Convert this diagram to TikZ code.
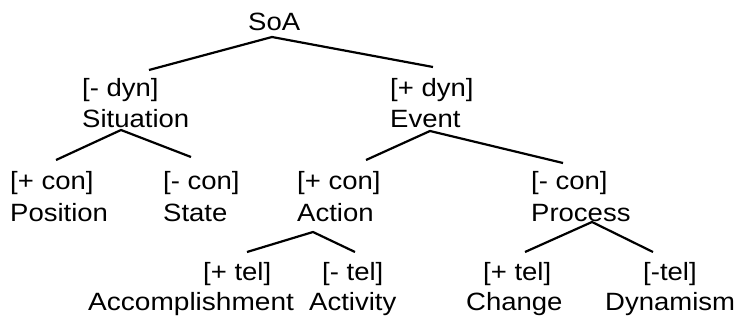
\documentclass[tikz,border=0pt]{standalone}
\usepackage{graphicx}
\usepackage{fontspec}
\setmainfont{Liberation Sans}[FakeStretch=1.10]
\begin{document}
\begin{tikzpicture}[x=1pt,y=-1pt,
  lbl/.style={anchor=base west,inner sep=0pt,font=\fontsize{25}{30}\selectfont},
  edge/.style={line width=2.2pt}]
\useasboundingbox (0,0) rectangle (738,321);
% labels
\node[lbl] (soa) at (248,31) {SoA};
\node[lbl] (fdyn) at (82,96) {[- dyn]};
\node[lbl] (situation) at (82,127) {Situation};
\node[lbl] (pdyn) at (390,96) {[+ dyn]};
\node[lbl] (event) at (390,127) {Event};
\node[lbl] (pcon1) at (10,189) {[+ con]};
\node[lbl] (position) at (10,221) {Position};
\node[lbl] (mcon1) at (163,189) {[- con]};
\node[lbl] (state) at (163,221) {State};
\node[lbl] (pcon2) at (297,189) {[+ con]};
\node[lbl] (action) at (297,221) {Action};
\node[lbl] (mcon2) at (531,189) {[- con]};
\node[lbl] (process) at (531,221) {Process};
\node[lbl] (ptel1) at (203,280) {[+ tel]};
\node[lbl] (accomp) at (88,310) {\scalebox{1.02}[1]{Accomplishment}};
\node[lbl] (mtel1) at (322,280) {[- tel]};
\node[lbl] (activity) at (309,310) {Activity};
\node[lbl] (ptel2) at (483,280) {[+ tel]};
\node[lbl] (change) at (466,310) {Change};
\node[lbl] (mtel2) at (643,280) {[-tel]};
\node[lbl] (dynamism) at (605,310) {Dynamism};
% connector points
\coordinate (soa-b) at (272,37);
\coordinate (fdyn-t) at (149,70);
\coordinate (pdyn-t) at (433,67);
\coordinate (situation-b) at (121,130);
\coordinate (pcon1-t) at (56,160);
\coordinate (mcon1-t) at (191,157);
\coordinate (event-b) at (430,131);
\coordinate (pcon2-t) at (366,160);
\coordinate (mcon2-t) at (563,163);
\coordinate (action-b) at (313,232);
\coordinate (ptel1-t) at (247,252);
\coordinate (mtel1-t) at (355,252);
\coordinate (process-b) at (592,222);
\coordinate (ptel2-t) at (525,252);
\coordinate (mtel2-t) at (653,252);
% connectors
\draw[edge] (fdyn-t) -- (soa-b) -- (pdyn-t);
\draw[edge] (pcon1-t) -- (situation-b) -- (mcon1-t);
\draw[edge] (pcon2-t) -- (event-b) -- (mcon2-t);
\draw[edge] (ptel1-t) -- (action-b) -- (mtel1-t);
\draw[edge] (ptel2-t) -- (process-b) -- (mtel2-t);
\end{tikzpicture}
\end{document}
